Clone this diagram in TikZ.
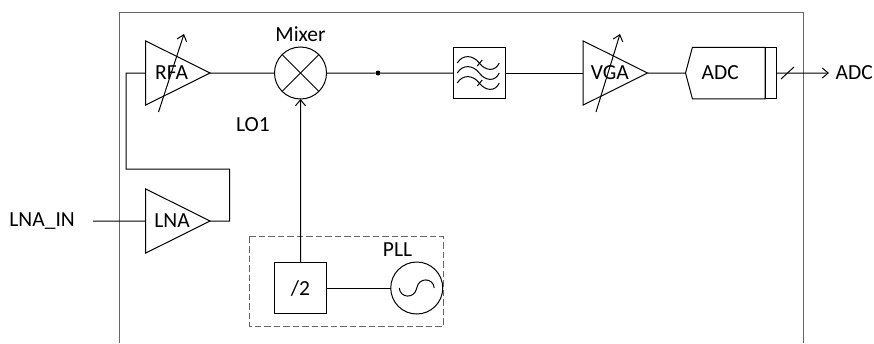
\documentclass[tikz,border=0pt]{standalone}
\usepackage{fontspec}
\setmainfont{Carlito}
\usetikzlibrary{positioning, arrows.meta, shapes.geometric, shapes.symbols}

\tikzset{
  amp/.style={draw,isosceles triangle,isosceles triangle apex angle=53,minimum height=64.5pt,inner sep=0pt,outer sep=0pt,line width=1pt,execute at begin node=\hspace{6pt}},
  blockbox/.style={draw,rectangle,minimum size=51.5pt,inner sep=0pt,outer sep=0pt,line width=1pt},
  roundbox/.style={draw,circle,minimum size=52pt,inner sep=0pt,outer sep=0pt,line width=1pt},
  adcbox/.style={draw,minimum height=51.5pt,inner sep=0pt,outer sep=0pt,line width=1pt},
  wire/.style={line width=1pt},
  varbar/.style={line width=1pt,-{Straight Barb[length=6pt,width=10pt]}},
  frameline/.style={line width=0.9pt,draw=black!60},
  lbl/.style={inner sep=0pt}
}

\begin{document}
\begin{tikzpicture}[x=1pt,y=1pt,font=\fontsize{21.5}{26}\selectfont]
   \useasboundingbox (0,0) rectangle (874,-343);

   \node[amp,anchor=apex] (rfa) at (210,-73) {RFA};
   \node[roundbox] (mix) [right=64.5pt of rfa] {};
   \node[blockbox] (flt) [right=127pt of mix] {};
   \node[amp] (vga) [right=78pt of flt] {VGA};
   \node[adcbox,signal,signal to=west,signal from=nowhere,signal pointer angle=150,minimum width=79.5pt,execute at end node=\hspace{17pt}] (adc) [right=38pt of vga] {ADC};
   \node[adcbox,rectangle,minimum width=11.5pt] (adcbar) [right=0pt of adc] {};
   \node[amp,anchor=apex] (lna) at (210,-221) {LNA};
   \node[blockbox] (div) at (300.5,-288) {/2};
   \node[roundbox] (pll) [right=64.5pt of div] {};
   \node[lbl] (mixlbl) at (300.5,-34) {Mixer};
   \node[lbl] (lolbl) at (253,-125) {LO1};
   \node[lbl] (plllbl) at (397.5,-250) {PLL};
   \node[lbl,anchor=east] (lnain) at (75,-221) {LNA\_IN};
   \node[lbl,anchor=west] (adcout) at (835.5,-73) {ADC};
   \node[circle,fill=black,minimum size=5pt,inner sep=0pt] (dot) at (378,-73) {};

   \coordinate (fa) at (119.5,-343);
   \coordinate (fb) at (119.5,-12);
   \coordinate (fc) at (803,-12);
   \coordinate (fd) at (803,-343);
   \coordinate (lnastart) at (93,-221);
   \coordinate (fbk1) at (229.5,-221);
   \coordinate (fbk2) at (229.5,-169);
   \coordinate (fbk3) at (126,-169);
   \coordinate (fbk4) at (126,-73);
   \coordinate (adcend) at (829,-73);
   \coordinate (pa) at (249,-236.5);
   \coordinate (pb) at (443,-326);

   % outer frame, open at the bottom
   \draw[frameline] (fa) -- (fb) -- (fc) -- (fd);
   \draw[dashed,frameline,dash pattern=on 6.5pt off 3pt] (pa) rectangle (pb);

   \draw[wire] (lnastart) -- (lna.west);
   \draw[wire] (lna.apex) -- (fbk1) -- (fbk2) -- (fbk3) -- (fbk4) -- (rfa.west);
   \draw[wire] (rfa.apex) -- (mix.west);
   \draw[wire] (mix.east) -- (dot) -- (flt.west);
   \draw[wire] (flt.east) -- (vga.west);
   \draw[wire] (vga.apex) -- (adc.west);
   \draw[wire] (div) -- (pll);
   \draw[varbar] (div.north) -- (mix.south);
   \draw[varbar] (adcbar.east) -- (adcend);

   % tuning arrows
   \draw[varbar] (158.5,-112) -- (184,-34);
   \draw[varbar] (596,-112) -- (620,-34);
   \draw[wire] (781,-79) -- (794,-67);

   % mixer cross
   \draw[wire] (mix.45) -- (mix.225);
   \draw[wire] (mix.135) -- (mix.315);

   % filter waves
   \foreach \dy in {-10,0,10}
     \draw[wire] ([xshift=-22pt,yshift=\dy pt]flt.center) .. controls +(5.5,9) and +(-6,8) .. ([yshift=\dy pt]flt.center) .. controls +(6,-8) and +(-4,-9) .. ([xshift=20pt,yshift=\dy pt]flt.center);
   \foreach \dy in {-10,10}
     \draw[wire] ([xshift=-2pt,yshift=\dy pt-3pt]flt.center) -- ([xshift=3pt,yshift=\dy pt+3pt]flt.center);

   % oscillator sine
   \draw[wire] ([xshift=-17.5pt]pll.center) .. controls +(1,-10.5) and +(-2,-11) .. (pll.center) .. controls +(2,11) and +(-1,10.5) .. ([xshift=17.5pt]pll.center);

\end{tikzpicture}
\end{document}
